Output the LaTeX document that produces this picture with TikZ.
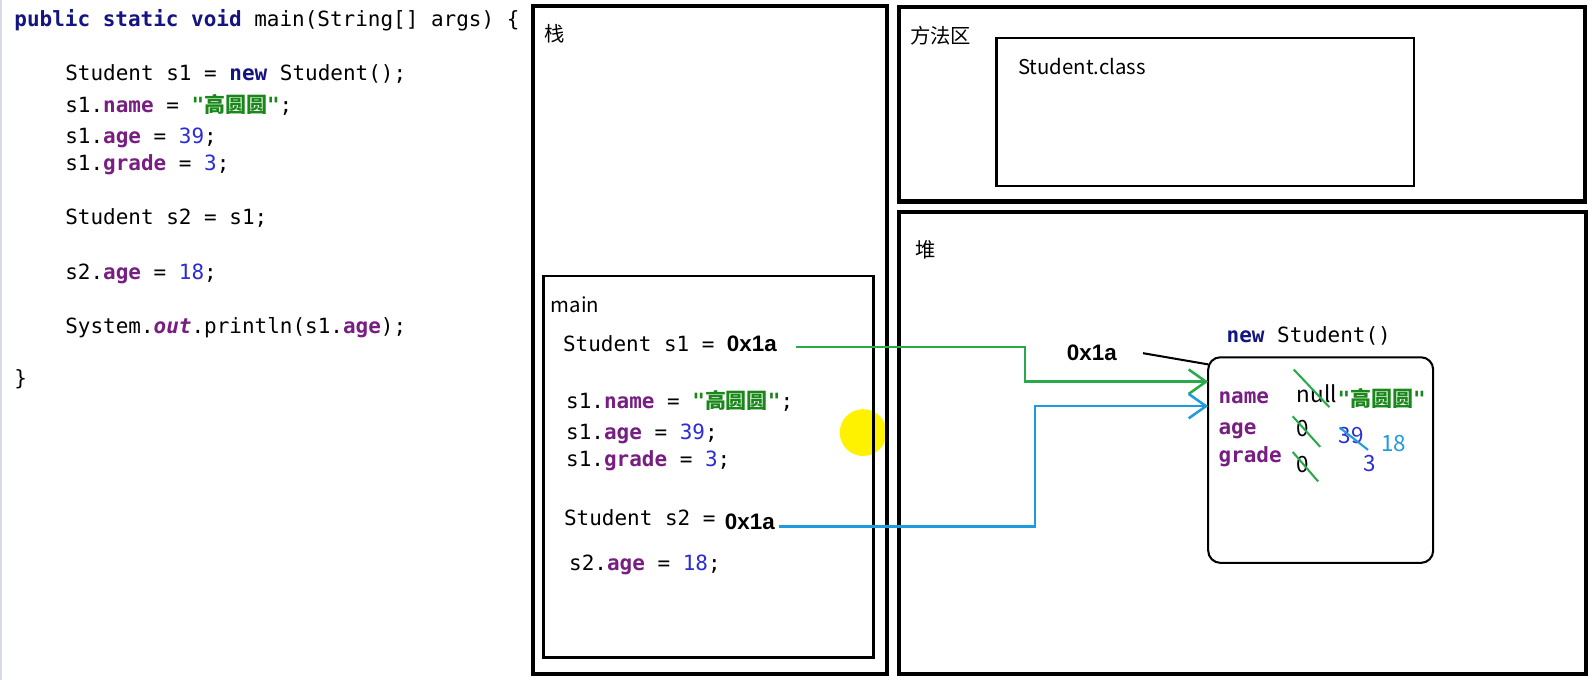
\documentclass[tikz,border=0pt]{standalone}
\usepackage{fontspec}
\setmainfont{Noto Sans CJK SC}
\newfontfamily\codefont{DejaVu Sans Mono}
\newfontfamily\cjk{Noto Sans CJK SC}
\newfontfamily\hexfont{Liberation Sans}
\usetikzlibrary{arrows.meta}
\definecolor{kwblue}{RGB}{20,20,130}
\definecolor{fldpurple}{RGB}{120,30,130}
\definecolor{numblue}{RGB}{45,45,215}
\definecolor{strgreen}{RGB}{25,135,25}
\definecolor{refgreen}{RGB}{40,170,75}
\definecolor{refblue}{RGB}{30,155,220}
\definecolor{margin}{RGB}{215,218,235}
\newcommand{\jkw}[1]{{\bfseries\color{kwblue}#1}}
\newcommand{\jfld}[1]{{\bfseries\color{fldpurple}#1}}
\newcommand{\jnum}[1]{{\color{numblue}#1}}
\newcommand{\jstr}[1]{{\bfseries\color{strgreen}{\codefont"}{\cjk #1}{\codefont"}}}
\begin{document}
\begin{tikzpicture}[x=1pt,y=-1pt,>={Straight Barb[length=17pt,width=24pt]},
	code/.style={anchor=base west,inner sep=0pt,font=\codefont\fontsize{20.6}{24}\selectfont},
	lbl/.style={anchor=base west,inner sep=0pt,font=\fontsize{20}{24}\selectfont},
	hex/.style={anchor=base west,inner sep=0pt,font=\hexfont\bfseries\fontsize{22}{26}\selectfont},
	val/.style={anchor=base west,inner sep=0pt,font=\fontsize{22}{26}\selectfont},
	bigbox/.style={draw,line width=4pt,anchor=north west,inner sep=0pt,outer sep=0pt},
	smallbox/.style={draw,line width=2pt,anchor=north west,inner sep=0pt,outer sep=0pt},
	ptr/.style={line width=2.5pt,->},
	strike/.style={line width=2pt}]
	\useasboundingbox[fill=white] (0,0) rectangle (1568,668);
	\fill[margin] (0,0) rectangle (2,668);
	\node[code] (c1) at (14,26) {\jkw{public static void} main(String[] args) \{};
	\node[code] (c2) at (64,79) {Student s1 = \jkw{new} Student();};
	\node[code] (c3) at (64,111) {s1.\jfld{name} = \jstr{高圆圆};};
	\node[code] (c4) at (64,141) {s1.\jfld{age} = \jnum{39};};
	\node[code] (c5) at (64,168) {s1.\jfld{grade} = \jnum{3};};
	\node[code] (c6) at (64,221) {Student s2 = s1;};
	\node[code] (c7) at (64,275) {s2.\jfld{age} = \jnum{18};};
	\node[code] (c8) at (64,328) {System.{\bfseries\itshape\color{fldpurple}out}.println(s1.\jfld{age});};
	\node[code] (c9) at (14,379) {\}};
	\fill[yellow] (848,425) circle[radius=23pt];
	\node[bigbox,minimum width=347,minimum height=656] (stack) at (524,6) {};
	\node[lbl] (stacklbl) at (535,41) {栈};
	\node[smallbox,line width=2.5pt,minimum width=324,minimum height=375] (mainf) at (534,271) {};
	\node[lbl] (mainlbl) at (541,307) {main};
	\node[code] (s1decl) at (553,345) {Student s1 =};
	\node[hex] (v1) at (714,345) {0x1a};
	\node[code] (s1name) at (556,401) {s1.\jfld{name} = \jstr{高圆圆};};
	\node[code] (s1age) at (556,432) {s1.\jfld{age} = \jnum{39};};
	\node[code] (s1grade) at (556,458) {s1.\jfld{grade} = \jnum{3};};
	\node[code] (s2decl) at (554,516) {Student s2 =};
	\node[hex] (v2) at (712,520) {0x1a};
	\node[code] (s2age) at (559,560) {s2.\jfld{age} = \jnum{18};};
	\node[bigbox,minimum width=674,minimum height=191] (method) at (883,7) {};
	\node[lbl] (methodlbl) at (894,43) {方法区};
	\node[smallbox,minimum width=410,minimum height=146] (cls) at (979,37) {};
	\node[lbl] (clslbl) at (1000,73) {Student.class};
	\node[bigbox,minimum width=675,minimum height=454] (heap) at (883,208) {};
	\node[lbl] (heaplbl) at (899,253) {堆};
	\node[code] (newobj) at (1205,336) {\jkw{new} Student()};
	\node[hex] (hv) at (1048,354) {0x1a};
	\node[smallbox,minimum width=221,minimum height=202,rounded corners=12pt] (obj) at (1187,351) {};
	\node[code] (fname) at (1197,396) {\jfld{name}};
	\node[code] (fage) at (1197,427) {\jfld{age}};
	\node[code] (fgrade) at (1197,454) {\jfld{grade}};
	\node[val] (name0) at (1274,395) {null};
	\node[lbl,font=\fontsize{20.6}{24}\selectfont] (name1) at (1314,399) {\jstr{高圆圆}};
	\node[val] (age0) at (1274,429) {0};
	\node[val,text=numblue] (age1) at (1315,436) {39};
	\node[val,text=refblue] (age2) at (1357,444) {18};
	\node[val] (grade0) at (1274,464) {0};
	\node[val,text=numblue] (grade1) at (1339,463) {3};
	\draw[strike,refgreen] (1271,363) -- (1306,400) (1270,409) -- (1297,439) (1270,444) -- (1295,473);
	\draw[strike,refblue] (1316,420) -- (1344,442);
	\coordinate (s1out) at (782,341);
	\coordinate (s1turn) at (1007,375);
	\draw[ptr,refgreen] (s1out) -| (s1turn) -- (obj.west |- s1turn);
	\coordinate (s2out) at (765,517);
	\coordinate (s2turn) at (1017,399);
	\draw[ptr,refblue] (s2out) -| (s2turn) -- (obj.west |- s2turn);
	\coordinate (hvtail) at (1123,347);
	\draw[line width=2pt] (hvtail) -- ([yshift=-7pt]obj.north west);
\end{tikzpicture}
\end{document}
